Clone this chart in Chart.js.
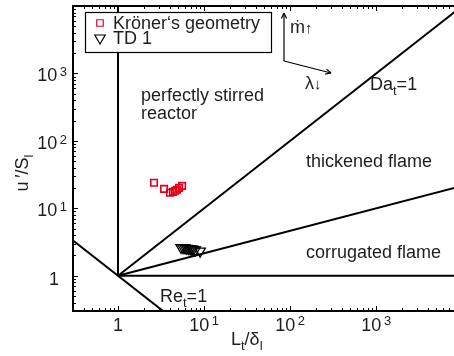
<!DOCTYPE html>
<html>
<head>
<meta charset="utf-8">
<script src="https://cdn.jsdelivr.net/npm/chart.js@4/dist/chart.umd.min.js"></script>
<style>
  html, body { margin: 0; padding: 0; background: #fff; }
  canvas { display: block; }
</style>
</head>
<body>
<canvas id="regime" width="454" height="356"></canvas>
<script>
// ─── Data ───────────────────────────────────────────────────────────────────
// Kröner's geometry (red squares)
const kronerX = [2.62, 3.43, 4.02, 4.36, 4.6, 4.85, 5.12, 5.55];
const kronerY = [23.9, 19.4, 17.0, 17.5, 18.2, 18.8, 20.1, 21.5];

// TD 1 (black triangles)
const td1X = [5.4, 5.7, 6.0, 6.3, 6.6, 6.9, 7.2, 7.5, 7.9, 9.0];
const td1Y = [2.62, 2.6, 2.58, 2.55, 2.53, 2.5, 2.48, 2.45, 2.42, 2.32];

// Regime boundaries
const psrLineX   = [1, 1];        const psrLineY   = [1, 10000];   // L_t/δ_l = 1
const wrinkLineX = [1, 10000];    const wrinkLineY = [1, 1];       // u'/S_l = 1
const reLineX    = [0.1, 10];     const reLineY    = [10, 0.1];    // Re_t = 1
const daLineX    = [1, 10000];    const daLineY    = [1, 10000];   // Da_t = 1
const kaLineX    = [1, 10000];    const kaLineY    = [1, 21.5];    // Ka = 1

// Axis ticks
const xTickValues = [1, 10, 100, 1000];
const xTickLabels = ["1", "10^1", "10^2", "10^3"];
const yTickValues = [1, 10, 100, 1000];
const yTickLabels = ["1", "10^1", "10^2", "10^3"];

// ─── Styles ─────────────────────────────────────────────────────────────────
const FONT = '"Liberation Sans", Arial, Helvetica, sans-serif';
const INK  = "#000000";
const TEXT = "#1e1e1e";
const RED  = "#e2001c";

function toPoints(xs, ys) {
    return xs.map((x, i) => ({ x: x, y: ys[i] }));
}

function boundary(xs, ys) {
    return {
        data: toPoints(xs, ys),
        showLine: true,
        borderColor: INK,
        borderWidth: 2,
        pointRadius: 0,
        fill: false,
    };
}

// ─── Drawing helpers ────────────────────────────────────────────────────────
function line(ctx, x1, y1, x2, y2) {
    ctx.beginPath();
    ctx.moveTo(x1, y1);
    ctx.lineTo(x2, y2);
    ctx.stroke();
}

// draw text made of pieces [text, size, baselineShift]
function richText(ctx, parts, x, y) {
    let cx = x;
    parts.forEach(([t, size, dy]) => {
        ctx.font = `${size}px ${FONT}`;
        ctx.fillText(t, cx, y + dy);
        cx += ctx.measureText(t).width;
    });
    return cx - x;
}

function richWidth(ctx, parts) {
    let w = 0;
    parts.forEach(([t, size]) => {
        ctx.font = `${size}px ${FONT}`;
        w += ctx.measureText(t).width;
    });
    return w;
}

function tickParts(label, supShift) {
    if (label.indexOf("^") < 0) return [[label, 18, 0]];
    const [base, exp] = label.split("^");
    return [[base, 18, 0], ["\u2009", 13, 0], [exp, 13, supShift]];
}

function arrow(ctx, x1, y1, x2, y2) {
    line(ctx, x1, y1, x2, y2);
    const ang = Math.atan2(y2 - y1, x2 - x1);
    const len = 6, spread = 0.45;
    line(ctx, x2, y2, x2 - len * Math.cos(ang - spread), y2 - len * Math.sin(ang - spread));
    line(ctx, x2, y2, x2 - len * Math.cos(ang + spread), y2 - len * Math.sin(ang + spread));
}

// ─── Plugin: axes frame, ticks, labels, annotations, legend ────────────────
const regimePlugin = {
    id: "regime",
    afterDatasetsDraw(chart) {
        const { ctx, chartArea: a, scales: { x, y } } = chart;
        ctx.save();

        // inward ticks (MATLAB style)
        ctx.strokeStyle = INK;
        ctx.lineWidth = 1;
        for (let k = -1; k <= 4; k++) {
            for (let m = 1; m <= 9; m++) {
                const v = m * Math.pow(10, k);
                const len = m === 1 ? 5 : 3;
                if (v >= x.min && v <= x.max) {
                    const px = Math.round(x.getPixelForValue(v)) + 0.5;
                    line(ctx, px, a.bottom, px, a.bottom - len);
                    line(ctx, px, a.top, px, a.top + len);
                }
                if (v >= y.min && v <= y.max) {
                    const py = Math.round(y.getPixelForValue(v)) + 0.5;
                    line(ctx, a.left, py, a.left + len, py);
                }
            }
        }

        // frame
        ctx.lineWidth = 2;
        ctx.beginPath();
        ctx.moveTo(a.right, a.top);
        ctx.lineTo(a.left, a.top);
        ctx.lineTo(a.left, a.bottom);
        ctx.lineTo(a.right, a.bottom);
        ctx.stroke();

        ctx.fillStyle = TEXT;
        ctx.textBaseline = "alphabetic";
        ctx.textAlign = "left";

        // x tick labels
        xTickValues.forEach((v, i) => {
            const parts = tickParts(xTickLabels[i], -6);
            const w = richWidth(ctx, parts);
            richText(ctx, parts, x.getPixelForValue(v) - w / 2, a.bottom + 20);
        });

        // y tick labels
        yTickValues.forEach((v, i) => {
            const py = y.getPixelForValue(v);
            const lbl = yTickLabels[i];
            const parts = tickParts(lbl, -5);
            const w = richWidth(ctx, parts);
            if (lbl.indexOf("^") < 0) richText(ctx, parts, a.left - 14 - w, py + 9);
            else richText(ctx, parts, a.left - 6 - w, py + 8);
        });

        // axis titles
        richText(ctx, [["L", 18, 0], ["t", 13, 5], ["/δ", 18, 0], ["l", 13, 5]], 231, 345);

        ctx.save();
        ctx.translate(28, 173);
        ctx.rotate(-Math.PI / 2);
        const yTitle = [["u\u2009′/S", 18, 0], ["l", 13, 5]];
        richText(ctx, yTitle, -richWidth(ctx, yTitle) / 2, 0);
        ctx.restore();

        // regime annotations
        ctx.font = `18px ${FONT}`;
        ctx.fillText("perfectly stirred", 141, 101);
        ctx.fillText("reactor", 141, 119);
        ctx.fillText("thickened flame", 306, 167);
        ctx.fillText("corrugated flame", 306, 258);
        richText(ctx, [["Re", 18, 0], ["t", 13, 5], ["=1", 18, 0]], 160, 302);
        richText(ctx, [["Da", 18, 0], ["t", 13, 5], ["=1", 18, 0]], 370, 90);
        richText(ctx, [["ṁ", 18, 0], ["↑", 15, 0]], 290, 33);
        richText(ctx, [["λ", 18, 0], ["↓", 15, 0]], 305, 89);

        // direction arrows
        ctx.strokeStyle = INK;
        ctx.lineWidth = 1.2;
        arrow(ctx, 284, 61, 284, 13);
        arrow(ctx, 284, 61, 331, 73);

        // legend
        const lg = { left: 85, top: 12, width: 186, height: 40 };
        ctx.fillStyle = "#ffffff";
        ctx.fillRect(lg.left, lg.top, lg.width, lg.height);
        ctx.lineWidth = 1.2;
        ctx.strokeStyle = INK;
        ctx.strokeRect(lg.left + 0.5, lg.top + 0.5, lg.width, lg.height);

        chart.data.datasets.slice(0, 2).forEach((ds, i) => {
            const cy = lg.top + 11 + i * 15;
            ctx.strokeStyle = ds.pointBorderColor;
            ctx.fillStyle = "rgba(0,0,0,0)";
            Chart.helpers.drawPoint(ctx, {
                pointStyle: ds.pointStyle,
                radius: ds.pointRadius,
                rotation: ds.pointRotation || 0,
                borderWidth: ds.pointBorderWidth,
            }, 100, cy);
            ctx.fillStyle = TEXT;
            ctx.font = `18px ${FONT}`;
            ctx.fillText(ds.label, 113, cy + 6);
        });

        ctx.restore();
    },
};

// ─── Chart ──────────────────────────────────────────────────────────────────
const ctx = document.getElementById("regime").getContext("2d");

new Chart(ctx, {
    type: "scatter",
    data: {
        datasets: [
            {
                label: "Kröner‘s geometry",
                data: toPoints(kronerX, kronerY),
                pointStyle: "rect",
                pointRadius: 4.6,
                pointBorderWidth: 1.6,
                pointBorderColor: RED,
                pointBackgroundColor: "rgba(0,0,0,0)",
            },
            {
                label: "TD 1",
                data: toPoints(td1X, td1Y),
                pointStyle: "triangle",
                pointRotation: 180,
                pointRadius: 6,
                pointBorderWidth: 1.3,
                pointBorderColor: INK,
                pointBackgroundColor: "rgba(0,0,0,0)",
            },
            boundary(psrLineX, psrLineY),
            boundary(wrinkLineX, wrinkLineY),
            boundary(reLineX, reLineY),
            boundary(daLineX, daLineY),
            boundary(kaLineX, kaLineY),
        ],
    },
    options: {
        responsive: false,
        animation: false,
        layout: { autoPadding: false, padding: { left: 73, top: 6, right: 0, bottom: 45 } },
        plugins: {
            legend: { display: false },
            tooltip: { enabled: false },
        },
        scales: {
            x: {
                type: "logarithmic",
                min: 0.3,
                max: 8000,
                ticks: { display: false },
                grid: { display: false, drawTicks: false },
                border: { display: false },
            },
            y: {
                type: "logarithmic",
                min: 0.3,
                max: 10000,
                ticks: { display: false },
                grid: { display: false, drawTicks: false },
                border: { display: false },
            },
        },
    },
    plugins: [regimePlugin],
});
</script>
</body>
</html>
